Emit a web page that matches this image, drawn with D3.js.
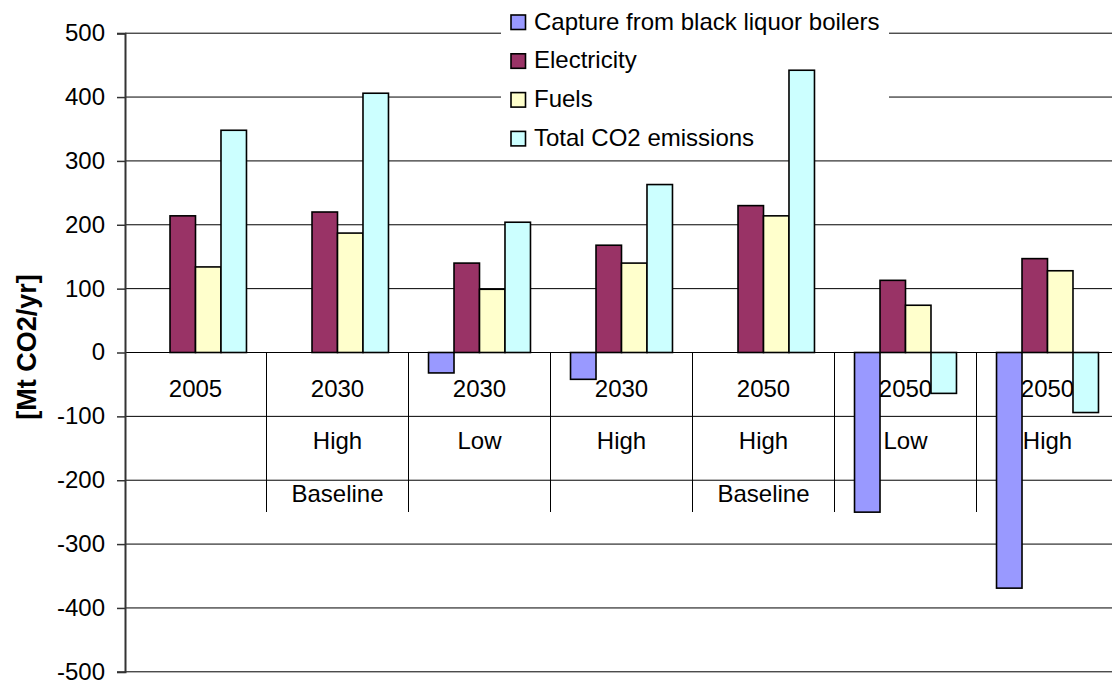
<!DOCTYPE html>
<html>
<head>
<meta charset="utf-8">
<script src="https://cdn.jsdelivr.net/npm/d3@7"></script>
<style>
  html, body { margin: 0; padding: 0; background: #fff; }
  svg { display: block; font-family: Arial, "Liberation Sans", sans-serif; }
</style>
</head>
<body>
<svg id="chart" width="1112" height="680"></svg>
<script>
// Scenario labels (three stacked rows of the category axis)
const yearLabels = ["2005", "2030", "2030", "2030", "2050", "2050", "2050"];
const levelLabels = ["", "High", "Low", "High", "High", "Low", "High"];
const caseLabels = ["", "Baseline", "", "", "Baseline", "", ""];

// Series values, Mt CO2 per year
const seriesNames = ["Capture from black liquor boilers", "Electricity", "Fuels", "Total CO2 emissions"];
const capture = [null, null, -32, -42, null, -250, -369];
const electricity = [214, 220, 140, 168, 230, 113, 147];
const fuels = [134, 187, 99, 140, 214, 74, 128];
const total = [348, 406, 204, 263, 442, -64, -94];

const yTicks = [500, 400, 300, 200, 100, 0, -100, -200, -300, -400, -500];
const seriesColors = ["#9999FF", "#993366", "#FFFFCC", "#CCFFFF"];

const seriesValues = [capture, electricity, fuels, total];
const svg = d3.select("#chart");

const x0 = d3.scaleBand().domain(d3.range(yearLabels.length)).range([124.5, 1118.5]).padding(0);
const groupW = x0.bandwidth() * 0.718;
const x1 = d3.scaleBand().domain(d3.range(seriesNames.length)).range([0, groupW]).padding(0);
const y = d3.scaleLinear().domain([500, -500]).range([33.2, 671.8]);

// Horizontal gridlines
svg.append("g").selectAll("line").data(yTicks).join("line")
  .attr("x1", 125).attr("x2", 1118.5)
  .attr("y1", d => y(d)).attr("y2", d => y(d))
  .attr("stroke", "#000").attr("stroke-width", 1);

// Legend background sits over the gridlines but under the bars
const legendBox = { x: 501, y: 0, w: 388, h: 154 };
svg.append("rect").attr("x", legendBox.x).attr("y", legendBox.y)
  .attr("width", legendBox.w).attr("height", legendBox.h).attr("fill", "#fff");

// Category-table dividers below the zero line
svg.append("g").selectAll("line").data(d3.range(1, yearLabels.length)).join("line")
  .attr("x1", d => x0(d)).attr("x2", d => x0(d))
  .attr("y1", y(0)).attr("y2", 512)
  .attr("stroke", "#000").attr("stroke-width", 1);

// Category labels
const catG = svg.append("g").attr("font-size", 24).attr("fill", "#000").attr("text-anchor", "middle");
const rows = [[yearLabels, 397], [levelLabels, 449], [caseLabels, 502]];
rows.forEach(([labels, base]) => {
  catG.append("g").selectAll("text").data(labels).join("text")
    .attr("x", (d, i) => x0(i) + x0.bandwidth() / 2)
    .attr("y", base)
    .text(d => d);
});

// Value axis
const yAxis = d3.axisLeft(y).tickValues(yTicks).tickSize(8).tickPadding(12).tickFormat(d3.format("d"));
const axG = svg.append("g").attr("transform", "translate(125,0)").call(yAxis);
axG.select(".domain").attr("stroke", "#333").attr("stroke-width", 2);
axG.selectAll(".tick line").attr("stroke", "#333").attr("stroke-width", 1.5);
axG.selectAll(".tick text").attr("font-size", 24).attr("fill", "#000")
  .attr("font-family", "Arial, 'Liberation Sans', sans-serif").attr("dy", "0.31em")
  .text(d => d < 0 ? "-" + Math.abs(d) : d);

// Bars
const bars = [];
seriesValues.forEach((vals, s) => vals.forEach((v, c) => {
  if (v !== null) bars.push({ s, c, v });
}));
svg.append("g").selectAll("rect").data(bars).join("rect")
  .attr("x", d => x0(d.c) + (x0.bandwidth() - groupW) / 2 + x1(d.s))
  .attr("width", x1.bandwidth())
  .attr("y", d => Math.min(y(d.v), y(0)))
  .attr("height", d => Math.abs(y(d.v) - y(0)))
  .attr("fill", d => seriesColors[d.s])
  .attr("stroke", "#000").attr("stroke-width", 1.6);

// Legend entries
const items = svg.append("g").selectAll("g").data(seriesNames).join("g")
  .attr("transform", (d, i) => `translate(0,${29.5 + i * 38.8})`);
items.append("rect").attr("x", 511).attr("y", -14.5).attr("width", 14.5).attr("height", 14.5)
  .attr("fill", (d, i) => seriesColors[i]).attr("stroke", "#000").attr("stroke-width", 1.6);
items.append("text").attr("x", 534).attr("y", 0).attr("font-size", 24).attr("fill", "#000").text(d => d);

// Axis title
svg.append("text")
  .attr("transform", "translate(36,347) rotate(-90)")
  .attr("text-anchor", "middle").attr("font-size", 27).attr("font-weight", "bold").attr("fill", "#000")
  .text("[Mt CO2/yr]");
</script>
</body>
</html>
